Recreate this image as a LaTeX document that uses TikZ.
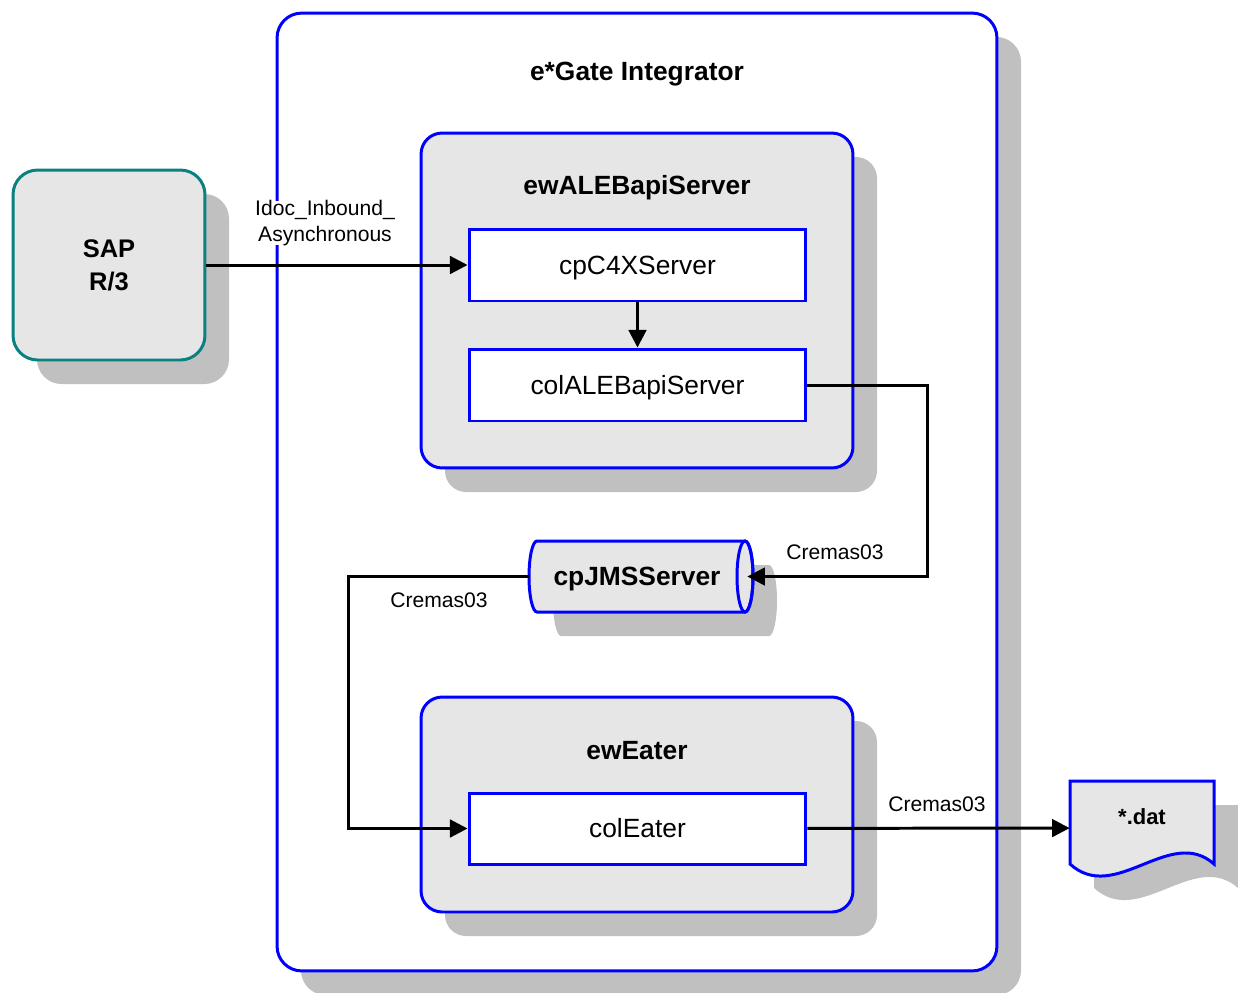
\documentclass[tikz,border=0pt]{standalone}
\usepackage{fontspec}
\setmainfont{Liberation Sans}
\usetikzlibrary{arrows.meta}
\definecolor{shade}{HTML}{C0C0C0}
\definecolor{boxgray}{HTML}{E6E6E6}
\definecolor{sapteal}{HTML}{0A8080}
\begin{document}
\begin{tikzpicture}[x=0.02cm,y=-0.02cm,
  blueline/.style={draw=blue,line width=1.7pt},
  container/.style={blueline,fill=white,rounded corners=14pt,minimum width=14.4cm,minimum height=19.16cm,inner sep=0pt},
  groupbox/.style={blueline,fill=boxgray,rounded corners=12pt,minimum width=8.64cm,inner sep=0pt},
  collab/.style={blueline,fill=white,minimum width=6.74cm,minimum height=1.44cm,inner sep=0pt,text height=11pt,text depth=0.5pt,font=\fontsize{15}{18}\selectfont},
  titletext/.style={font=\fontsize{15}{18}\selectfont\bfseries},
  lbl/.style={font=\fontsize{12}{14.4}\selectfont,inner sep=1pt},
  conn/.style={draw=black,line width=1.7pt,-{Triangle[length=10pt,width=10pt]}},
  shadowfill/.style={fill=shade}
]
\useasboundingbox (0,0) rectangle (1238,992);
\clip (0,0) rectangle (1238,992);

% container and its shadow
\fill[shadowfill,rounded corners=14pt] (301,37) rectangle (1021,995);
\node[container] (gate) at (637,492) {};
\node[titletext] (gatetitle) at (637,74) {e*Gate Integrator};

% other shadows
\fill[shadowfill,rounded corners=12pt] (445,157) rectangle (877,492);
\fill[shadowfill,rounded corners=12pt] (445,721) rectangle (877,936);
\fill[shadowfill,rounded corners=14pt] (37,194) rectangle (229,384);
\fill[shadowfill] (561,565) -- (769,565) arc[start angle=-90,end angle=90,x radius=8,y radius=35.5] -- (561,636) arc[start angle=90,end angle=270,x radius=8,y radius=35.5] -- cycle;
\fill[shadowfill] (1094,805) -- (1238,805) -- (1238,888) .. controls (1194,849) and (1139,929) .. (1094,888) -- cycle;

% ewALEBapiServer
\node[groupbox,minimum height=6.7cm] (ewale) at (637,300.5) {};
\node[titletext] (ewaletitle) at (637,188) {ewALEBapiServer};
\node[collab] (cpc) at (637.5,265) {cpC4XServer};
\node[collab] (colale) at (637.5,385) {colALEBapiServer};

% ewEater
\node[groupbox,minimum height=4.3cm] (eweater) at (637,804.5) {};
\node[titletext] (eweatertitle) at (637,751) {ewEater};
\node[collab,minimum height=1.42cm] (coleater) at (637.5,828.5) {colEater};

% SAP R/3
\node[draw=sapteal,line width=1.7pt,fill=boxgray,rounded corners=14pt,minimum width=3.84cm,minimum height=3.8cm,inner sep=0pt,align=center,font=\fontsize{14.5}{18.7}\selectfont\bfseries] (sap) at (109,265) {SAP\\R/3};

% cpJMSServer cylinder
\filldraw[fill=boxgray,blueline] (537,541) -- (745,541) arc[start angle=-90,end angle=90,x radius=8,y radius=35.5] -- (537,612) arc[start angle=90,end angle=270,x radius=8,y radius=35.5] -- cycle;
\draw[blueline] (745,576.5) ellipse[x radius=8,y radius=35.5];
\node[minimum width=4.36cm,minimum height=1.42cm,inner sep=0pt] (jms) at (638,576.5) {};
\node[titletext] (jmstext) at (637,579) {cpJMSServer};

% *.dat document
\filldraw[fill=boxgray,blueline] (1070,781) -- (1214,781) -- (1214,864) .. controls (1170,825) and (1115,905) .. (1070,864) -- cycle;
\node[minimum width=2.88cm,minimum height=1.88cm,inner sep=0pt] (dat) at (1142,828) {};
\node[font=\fontsize{12.5}{15}\selectfont\bfseries] (dattext) at (1142,817) {*.dat};

% connectors
\draw[conn] (sap) -- (cpc);
\draw[conn] (cpc) -- (colale);
\draw[conn] (colale.east) -- ++(120,0) |- (jms.east);
\draw[conn] (jms.west) -- ++(-180,0) |- (coleater.west);
\draw[conn] (coleater) -- (dat);

% labels
\node[lbl,fill=white,align=center,inner sep=0pt] (idoc) at (325,223) {Idoc\_Inbound\_\\Asynchronous};
\node[lbl] (cr1) at (835,552) {Cremas03};
\node[lbl] (cr2) at (439,600) {Cremas03};
\node[lbl] (cr3) at (937,804) {Cremas03};
\end{tikzpicture}
\end{document}
